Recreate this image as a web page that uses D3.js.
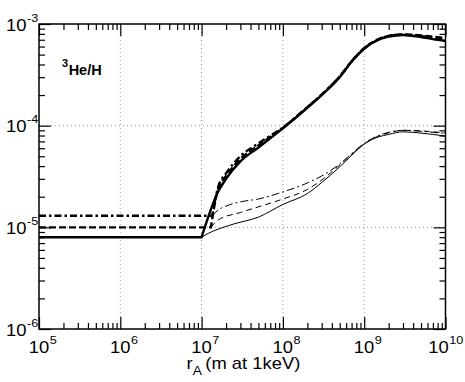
<!DOCTYPE html>
<html>
<head>
<meta charset="utf-8">
<script src="https://cdn.jsdelivr.net/npm/d3@7"></script>
<style>
  body { margin: 0; background: #fff; }
  text { font-family: "Liberation Sans", Arial, sans-serif; }
</style>
</head>
<body>
<div class="canvas"></div>
<script>
// values (rA in m, ratio 3He/H)
const thickSolidR = [1e5, 1e7, 1.6e7, 2e7, 3e7, 5e7, 1e8, 2e8, 3e8, 5e8, 7e8, 1e9, 1.5e9, 2e9, 3e9, 5e9, 7e9, 1e10];
const thickSolid  = [8.0e-6, 8.0e-6, 2.25e-5, 3.0e-5, 4.45e-5, 6.1e-5, 9.4e-5, 1.5e-4, 2.0e-4, 3.0e-4, 4.25e-4, 5.7e-4, 7.0e-4, 7.5e-4, 7.8e-4, 7.45e-4, 7.1e-4, 6.8e-4];

const thickDashR = [1e5, 1.3e7, 1.6e7, 2e7, 3e7, 5e7, 1e8, 2e8, 3e8, 5e8, 7e8, 1e9, 1.5e9, 2e9, 3e9, 5e9, 7e9, 1e10];
const thickDash  = [1.0e-5, 1.0e-5, 2.4e-5, 3.2e-5, 4.7e-5, 6.4e-5, 9.5e-5, 1.52e-4, 2.02e-4, 3.05e-4, 4.3e-4, 5.8e-4, 7.1e-4, 7.65e-4, 7.9e-4, 7.7e-4, 7.5e-4, 7.3e-4];

const thickDotR = [1e5, 1.35e7, 1.6e7, 2e7, 3e7, 5e7, 1e8, 2e8, 3e8, 5e8, 7e8, 1e9, 1.5e9, 2e9, 3e9, 5e9, 7e9, 1e10];
const thickDot  = [1.3e-5, 1.3e-5, 2.5e-5, 3.4e-5, 5.0e-5, 6.7e-5, 9.6e-5, 1.52e-4, 2.02e-4, 3.05e-4, 4.3e-4, 5.8e-4, 7.05e-4, 7.6e-4, 7.85e-4, 7.6e-4, 7.3e-4, 7.1e-4];

const thinSolidR = [1e7, 1.2e7, 1.6e7, 2.5e7, 5e7, 1e8, 2e8, 3e8, 5e8, 7e8, 1e9, 1.5e9, 2e9, 3e9, 5e9, 7e9, 1e10];
const thinSolid  = [8.0e-6, 8.7e-6, 9.6e-6, 1.08e-5, 1.26e-5, 1.68e-5, 2.15e-5, 2.76e-5, 3.93e-5, 5.1e-5, 6.6e-5, 7.75e-5, 8.2e-5, 8.7e-5, 8.45e-5, 8.2e-5, 7.9e-5];

const thinDashR = [1.3e7, 1.6e7, 3e7, 5e7, 1e8, 2e8, 3e8, 5e8, 7e8, 1e9, 1.5e9, 2e9, 3e9, 5e9, 7e9, 1e10];
const thinDash  = [1.0e-5, 1.18e-5, 1.4e-5, 1.59e-5, 1.9e-5, 2.36e-5, 2.92e-5, 4.1e-5, 5.2e-5, 6.65e-5, 7.9e-5, 8.5e-5, 9.0e-5, 8.9e-5, 8.7e-5, 8.5e-5];

const thinDotR = [1.35e7, 1.6e7, 2e7, 3e7, 5e7, 1e8, 2e8, 3e8, 5e8, 7e8, 1e9, 1.5e9, 2e9, 3e9, 5e9, 7e9, 1e10];
const thinDot  = [1.3e-5, 1.48e-5, 1.62e-5, 1.78e-5, 1.9e-5, 2.23e-5, 2.73e-5, 3.2e-5, 4.2e-5, 5.3e-5, 6.7e-5, 8.0e-5, 8.6e-5, 9.0e-5, 8.8e-5, 8.6e-5, 8.4e-5];

const xExps = [5, 6, 7, 8, 9, 10];
const yExps = [-6, -5, -4, -3];

const dims = { width: 465, height: 382 };
const box = { left: 39, right: 445.5, top: 24, bottom: 329 };
const stretch = 1.15; // labels in the picture are a bit wide

const svg = d3.select('.canvas')
  .append('svg')
  .attr('width', dims.width)
  .attr('height', dims.height);

const x = d3.scaleLog().domain([1e5, 1e10]).range([box.left, box.right]);
const y = d3.scaleLog().domain([1e-6, 1e-3]).range([box.bottom, box.top]);

// grid
const grid = svg.append('g').attr('stroke', '#9a9a9a').attr('stroke-width', 1).attr('stroke-dasharray', '1,3');
xExps.slice(1, -1).forEach(e => {
  grid.append('line').attr('x1', x(10 ** e)).attr('x2', x(10 ** e)).attr('y1', box.top).attr('y2', box.bottom);
});
yExps.slice(1, -1).forEach(e => {
  grid.append('line').attr('y1', y(10 ** e)).attr('y2', y(10 ** e)).attr('x1', box.left).attr('x2', box.right);
});

// minor / major tick values
const minorX = [], minorY = [];
xExps.slice(0, -1).forEach(e => { for (let k = 2; k <= 9; k++) minorX.push(k * 10 ** e); });
yExps.slice(0, -1).forEach(e => { for (let k = 2; k <= 9; k++) minorY.push(k * 10 ** e); });
const majorX = xExps.map(e => 10 ** e);
const majorY = yExps.map(e => 10 ** e);

const addAxis = (axisFn, scale, vals, size, tr) => {
  const g = svg.append('g')
    .attr('transform', tr)
    .call(axisFn(scale).tickValues(vals).tickSize(-size).tickFormat(''));
  g.select('.domain').remove();
  g.selectAll('line').attr('stroke', '#000').attr('stroke-width', 1.2);
};
addAxis(d3.axisBottom, x, minorX, 6, `translate(0,${box.bottom})`);
addAxis(d3.axisBottom, x, majorX, 12, `translate(0,${box.bottom})`);
addAxis(d3.axisTop, x, minorX, 6, `translate(0,${box.top})`);
addAxis(d3.axisTop, x, majorX, 12, `translate(0,${box.top})`);
addAxis(d3.axisLeft, y, minorY, 6, `translate(${box.left},0)`);
addAxis(d3.axisLeft, y, majorY, 12, `translate(${box.left},0)`);
addAxis(d3.axisRight, y, minorY, 6, `translate(${box.right},0)`);
addAxis(d3.axisRight, y, majorY, 12, `translate(${box.right},0)`);

// power-of-ten label, "10" starts at local x0
const powLabel = (px, py, x0, e) => {
  const t = svg.append('text')
    .attr('transform', `translate(${px},${py}) scale(${stretch},1)`)
    .attr('x', x0)
    .attr('font-size', 16);
  t.append('tspan').text('10');
  t.append('tspan').attr('font-size', 11).attr('dy', -9).attr('dx', 0.5).text(e);
};
xExps.forEach(e => powLabel(x(10 ** e) - (e === 10 ? 7 : 0), box.bottom + 24, -9, e));
yExps.forEach(e => powLabel(6, y(10 ** e) + 6.5, 0, e));

// axis title
const xt = svg.append('text')
  .attr('transform', `translate(186.5,368.5) scale(${stretch},1)`)
  .attr('font-size', 16);
xt.append('tspan').text('r');
xt.append('tspan').attr('font-size', 12).attr('dy', 6).text('A');
xt.append('tspan').attr('dy', -6).attr('dx', 3).text('(m at 1keV)');

// in-plot label
const lab = svg.append('text').attr('x', 62).attr('y', 75).attr('font-size', 14.5).attr('font-weight', 'bold');
lab.append('tspan').attr('font-size', 11).attr('dy', -8).text('3');
lab.append('tspan').attr('dy', 8).attr('dx', 0.5).text('He/H');

// curves: straight flat part, smooth after the knee
const lineLin = d3.line().x(d => x(d[0])).y(d => y(d[1]));
const lineMono = d3.line().x(d => x(d[0])).y(d => y(d[1])).curve(d3.curveMonotoneX);
const pathFor = (rs, vs, knee) => {
  const pts = rs.map((r, i) => [r, vs[i]]);
  if (knee <= 0) return lineMono(pts);
  return lineLin(pts.slice(0, knee + 1)) + lineMono(pts.slice(knee)).replace(/^M/, 'L');
};

const series = [
  { r: thinSolidR, v: thinSolid, knee: 0, w: 1, dash: null },
  { r: thinDashR, v: thinDash, knee: 0, w: 1, dash: '6,4' },
  { r: thinDotR, v: thinDot, knee: 0, w: 1, dash: '8,3,2,3' },
  { r: thickSolidR, v: thickSolid, knee: 1, w: 2.4, dash: null },
  { r: thickDashR, v: thickDash, knee: 1, w: 2.4, dash: '7,3' },
  { r: thickDotR, v: thickDot, knee: 1, w: 2.4, dash: '7,3,2.5,3' }
];

svg.append('g').selectAll('path')
  .data(series)
  .enter()
  .append('path')
  .attr('d', d => pathFor(d.r, d.v, d.knee))
  .attr('fill', 'none')
  .attr('stroke', '#000')
  .attr('stroke-width', d => d.w)
  .attr('stroke-dasharray', d => d.dash);

// frame
svg.append('rect')
  .attr('x', box.left).attr('y', box.top)
  .attr('width', box.right - box.left).attr('height', box.bottom - box.top)
  .attr('fill', 'none').attr('stroke', '#000').attr('stroke-width', 1.5);
</script>
</body>
</html>
